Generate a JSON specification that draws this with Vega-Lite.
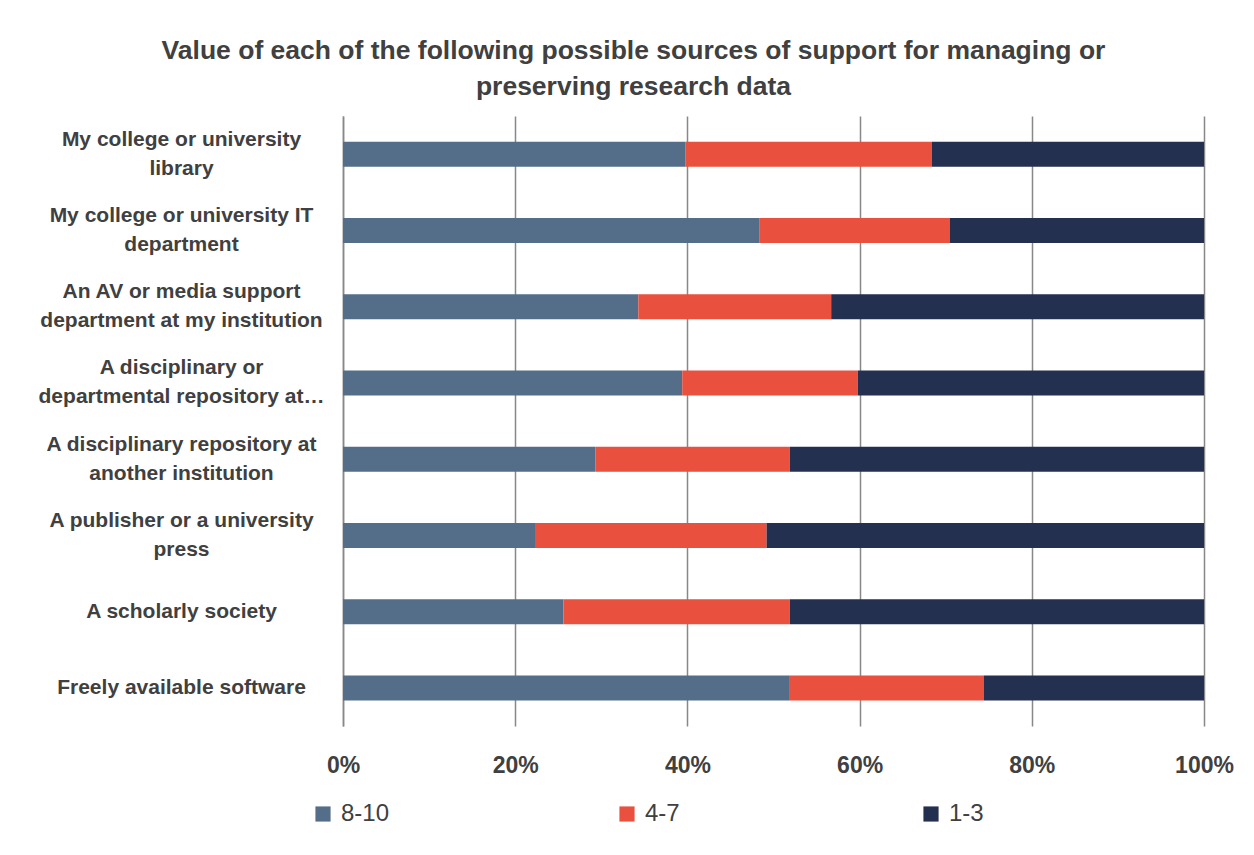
{
  "$schema": "https://vega.github.io/schema/vega-lite/v6.json",
  "width": 861,
  "height": 610,
  "autosize": {"type": "none"},
  "padding": {"left": 343, "top": 116, "right": 50, "bottom": 129},
  "background": "white",
  "title": {
    "text": ["Value of each of the following possible sources of support for managing or", "preserving research data"],
    "font": "Liberation Sans",
    "fontSize": 26.5,
    "fontWeight": "bold",
    "color": "#404040",
    "lineHeight": 36,
    "anchor": "middle",
    "frame": "group",
    "dx": -140,
    "offset": 16
  },
  "data": {
    "values": [
      {"source": "My college or university|library", "order": 1, "rating": "8-10", "r": 1, "value": 39.8},
      {"source": "My college or university|library", "order": 1, "rating": "4-7", "r": 2, "value": 28.6},
      {"source": "My college or university|library", "order": 1, "rating": "1-3", "r": 3, "value": 31.6},
      {"source": "My college or university IT|department", "order": 2, "rating": "8-10", "r": 1, "value": 48.4},
      {"source": "My college or university IT|department", "order": 2, "rating": "4-7", "r": 2, "value": 22.1},
      {"source": "My college or university IT|department", "order": 2, "rating": "1-3", "r": 3, "value": 29.5},
      {"source": "An AV or media support|department at my institution", "order": 3, "rating": "8-10", "r": 1, "value": 34.3},
      {"source": "An AV or media support|department at my institution", "order": 3, "rating": "4-7", "r": 2, "value": 22.4},
      {"source": "An AV or media support|department at my institution", "order": 3, "rating": "1-3", "r": 3, "value": 43.3},
      {"source": "A disciplinary or|departmental repository at…", "order": 4, "rating": "8-10", "r": 1, "value": 39.4},
      {"source": "A disciplinary or|departmental repository at…", "order": 4, "rating": "4-7", "r": 2, "value": 20.4},
      {"source": "A disciplinary or|departmental repository at…", "order": 4, "rating": "1-3", "r": 3, "value": 40.2},
      {"source": "A disciplinary repository at|another institution", "order": 5, "rating": "8-10", "r": 1, "value": 29.3},
      {"source": "A disciplinary repository at|another institution", "order": 5, "rating": "4-7", "r": 2, "value": 22.6},
      {"source": "A disciplinary repository at|another institution", "order": 5, "rating": "1-3", "r": 3, "value": 48.1},
      {"source": "A publisher or a university|press", "order": 6, "rating": "8-10", "r": 1, "value": 22.3},
      {"source": "A publisher or a university|press", "order": 6, "rating": "4-7", "r": 2, "value": 26.9},
      {"source": "A publisher or a university|press", "order": 6, "rating": "1-3", "r": 3, "value": 50.8},
      {"source": "A scholarly society", "order": 7, "rating": "8-10", "r": 1, "value": 25.6},
      {"source": "A scholarly society", "order": 7, "rating": "4-7", "r": 2, "value": 26.3},
      {"source": "A scholarly society", "order": 7, "rating": "1-3", "r": 3, "value": 48.1},
      {"source": "Freely available software", "order": 8, "rating": "8-10", "r": 1, "value": 51.9},
      {"source": "Freely available software", "order": 8, "rating": "4-7", "r": 2, "value": 22.5},
      {"source": "Freely available software", "order": 8, "rating": "1-3", "r": 3, "value": 25.6}
    ]
  },
  "mark": {"type": "bar", "size": 25},
  "encoding": {
    "y": {
      "field": "source",
      "type": "nominal",
      "sort": {"field": "order", "op": "min", "order": "ascending"},
      "scale": {"paddingInner": 0.5, "paddingOuter": 0.25},
      "axis": {
        "title": null,
        "labelExpr": "split(datum.label, '|')",
        "labelFont": "Liberation Sans",
        "labelFontSize": 21,
        "labelFontWeight": "bold",
        "labelColor": "#404040",
        "labelLineHeight": 29,
        "labelAlign": "center",
        "labelPadding": 162,
        "labelLimit": 400,
        "labelOffset": {"condition": {"test": "indexof(datum.label, '|') >= 0", "value": -14.5}, "value": 0},
        "ticks": false,
        "domain": true,
        "domainColor": "#888888",
        "domainWidth": 1.5,
        "grid": false
      }
    },
    "x": {
      "field": "value",
      "type": "quantitative",
      "stack": "normalize",
      "scale": {"domain": [0, 1]},
      "axis": {
        "title": null,
        "format": ".0%",
        "values": [0, 0.2, 0.4, 0.6, 0.8, 1],
        "grid": true,
        "gridColor": "#888888",
        "gridWidth": 1.5,
        "domain": false,
        "ticks": false,
        "labelFlush": false,
        "labelFont": "Liberation Sans",
        "labelFontSize": 23,
        "labelFontWeight": "bold",
        "labelColor": "#404040",
        "labelPadding": 28
      }
    },
    "color": {
      "field": "rating",
      "type": "nominal",
      "sort": ["8-10", "4-7", "1-3"],
      "scale": {"domain": ["8-10", "4-7", "1-3"], "range": ["#546e8a", "#e9503e", "#243050"]},
      "legend": {
        "title": null,
        "orient": "none",
        "direction": "horizontal",
        "columns": 3,
        "legendX": -32,
        "legendY": 686,
        "symbolType": "square",
        "symbolSize": 230,
        "symbolStrokeWidth": 0,
        "labelFont": "Liberation Sans",
        "labelFontSize": 24,
        "labelColor": "#404040",
        "labelOffset": 6,
        "columnPadding": 225,
        "gridAlign": "all"
      }
    },
    "order": {"field": "r", "type": "quantitative"}
  },
  "config": {
    "view": {"stroke": null},
    "axis": {"gridOpacity": 1}
  }
}
